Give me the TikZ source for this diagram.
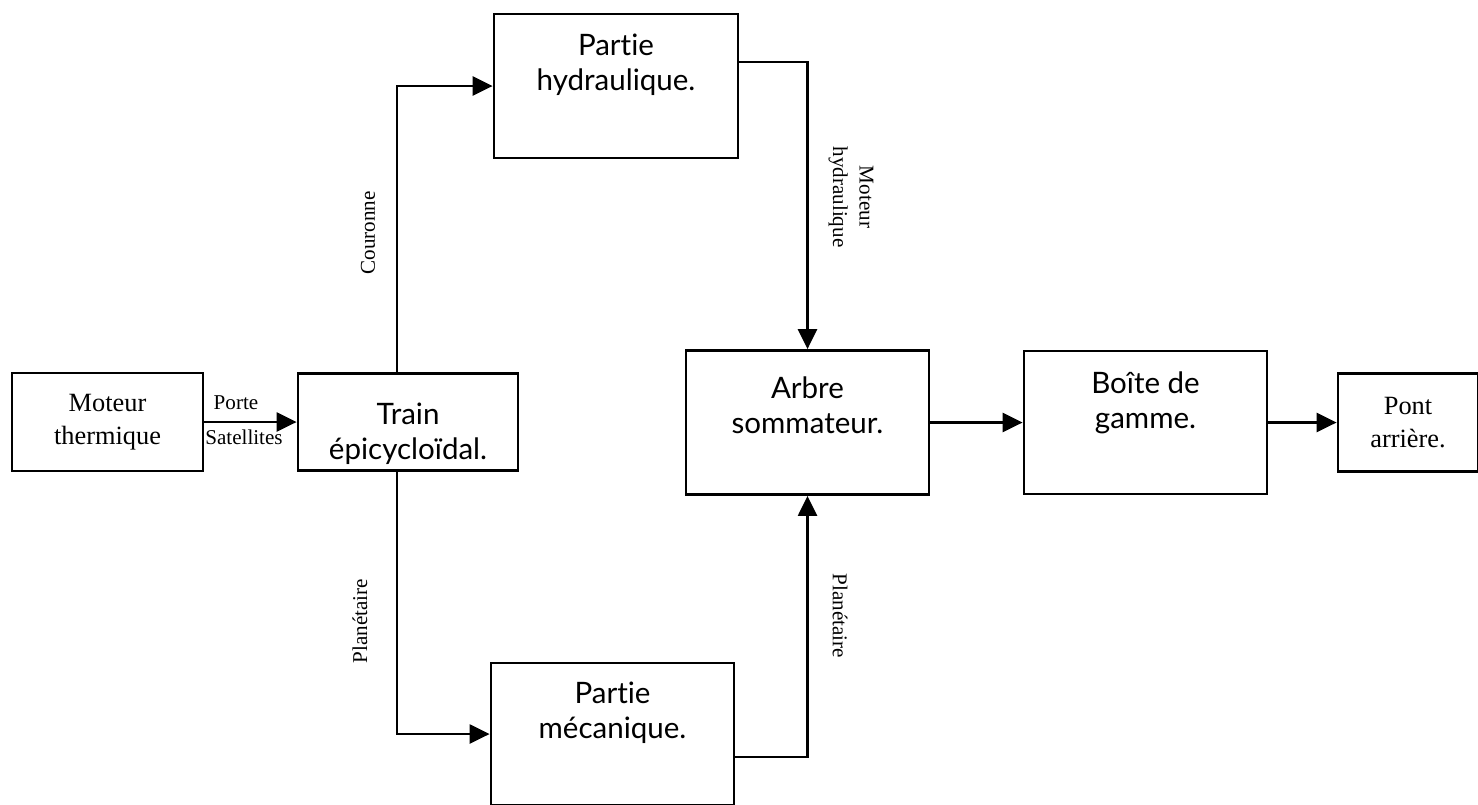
\documentclass[tikz,border=0pt]{standalone}
\usepackage{fontspec}
\setmainfont{Liberation Serif}
\newfontfamily\comicfont[Ligatures={NoCommon,NoRare}]{Lato}
\usetikzlibrary{arrows.meta,positioning}

\begin{document}
\begin{tikzpicture}[
    bloc/.style={draw, line width=0.8pt, inner sep=0pt},
    titre/.style={font=\comicfont\fontsize{8.4}{10}\selectfont, align=center, inner sep=0pt},
    texte/.style={font=\fontsize{7.5}{9.5}\selectfont, align=center},
    lbl/.style={font=\fontsize{6}{7.5}\selectfont, align=center, inner sep=0pt},
    fleche/.style={line width=0.7pt, -{Triangle[length=2mm,width=1.9mm]}}]
      \useasboundingbox (0,0) rectangle (14.78,8.04);
      \node[bloc, texte, minimum width=1.91cm, minimum height=0.98cm] (moteur) at (1.075,3.82) {Moteur\\thermique};
      \node[bloc, minimum width=2.20cm, minimum height=0.97cm] (train) at (4.08,3.82) {};
      \node[bloc, minimum width=2.44cm, minimum height=1.44cm] (hydr) at (6.16,7.18) {};
      \node[bloc, minimum width=2.43cm, minimum height=1.42cm] (meca) at (6.125,0.70) {};
      \node[bloc, minimum width=2.43cm, minimum height=1.44cm] (arbre) at (8.075,3.815) {};
      \node[bloc, minimum width=2.43cm, minimum height=1.43cm] (boite) at (11.455,3.815) {};
      \node[bloc, texte, minimum width=1.40cm, minimum height=0.98cm] (pont) at (14.08,3.815) {Pont\\arrière.};
      \node[titre, below=0.30 of train.north] (ttrain) {Train\\épicycloïdal.};
      \node[titre, below=0.21 of hydr.north] (thydr) {Partie\\hydraulique.};
      \node[titre, below=0.20 of meca.north] (tmeca) {Partie\\mécanique.};
      \node[titre, below=0.27 of arbre.north] (tarbre) {Arbre\\sommateur.};
      \node[titre, below=0.21 of boite.north] (tboite) {Boîte de\\gamme.};
      \node[lbl] (porte) at (2.36,4.01) {Porte};
      \node[lbl] (satel) at (2.44,3.67) {Satellites};
      \node[lbl, rotate=90] (couronne) at (3.68,5.71) {Couronne};
      \node[lbl, rotate=90] (plan1) at (3.60,1.83) {Planétaire};
      \node[lbl, rotate=-90] (plan2) at (8.40,1.88) {Planétaire};
      \node[lbl, rotate=-90] (mothyd) at (8.51,6.07) {Moteur\\hydraulique};
      \draw[fleche] (moteur) -- (train);
      \draw[fleche] ([xshift=-1.1mm]train.north) |- (hydr);
      \draw[fleche] ([xshift=-1.1mm]train.south) |- (meca);
      \draw[fleche] ([yshift=2.4mm]hydr.east) -| (arbre);
      \draw[fleche] ([yshift=-2.3mm]meca.east) -| (arbre);
      \draw[fleche] (arbre) -- (boite);
      \draw[fleche] (boite) -- (pont);
    \end{tikzpicture}
\end{document}
